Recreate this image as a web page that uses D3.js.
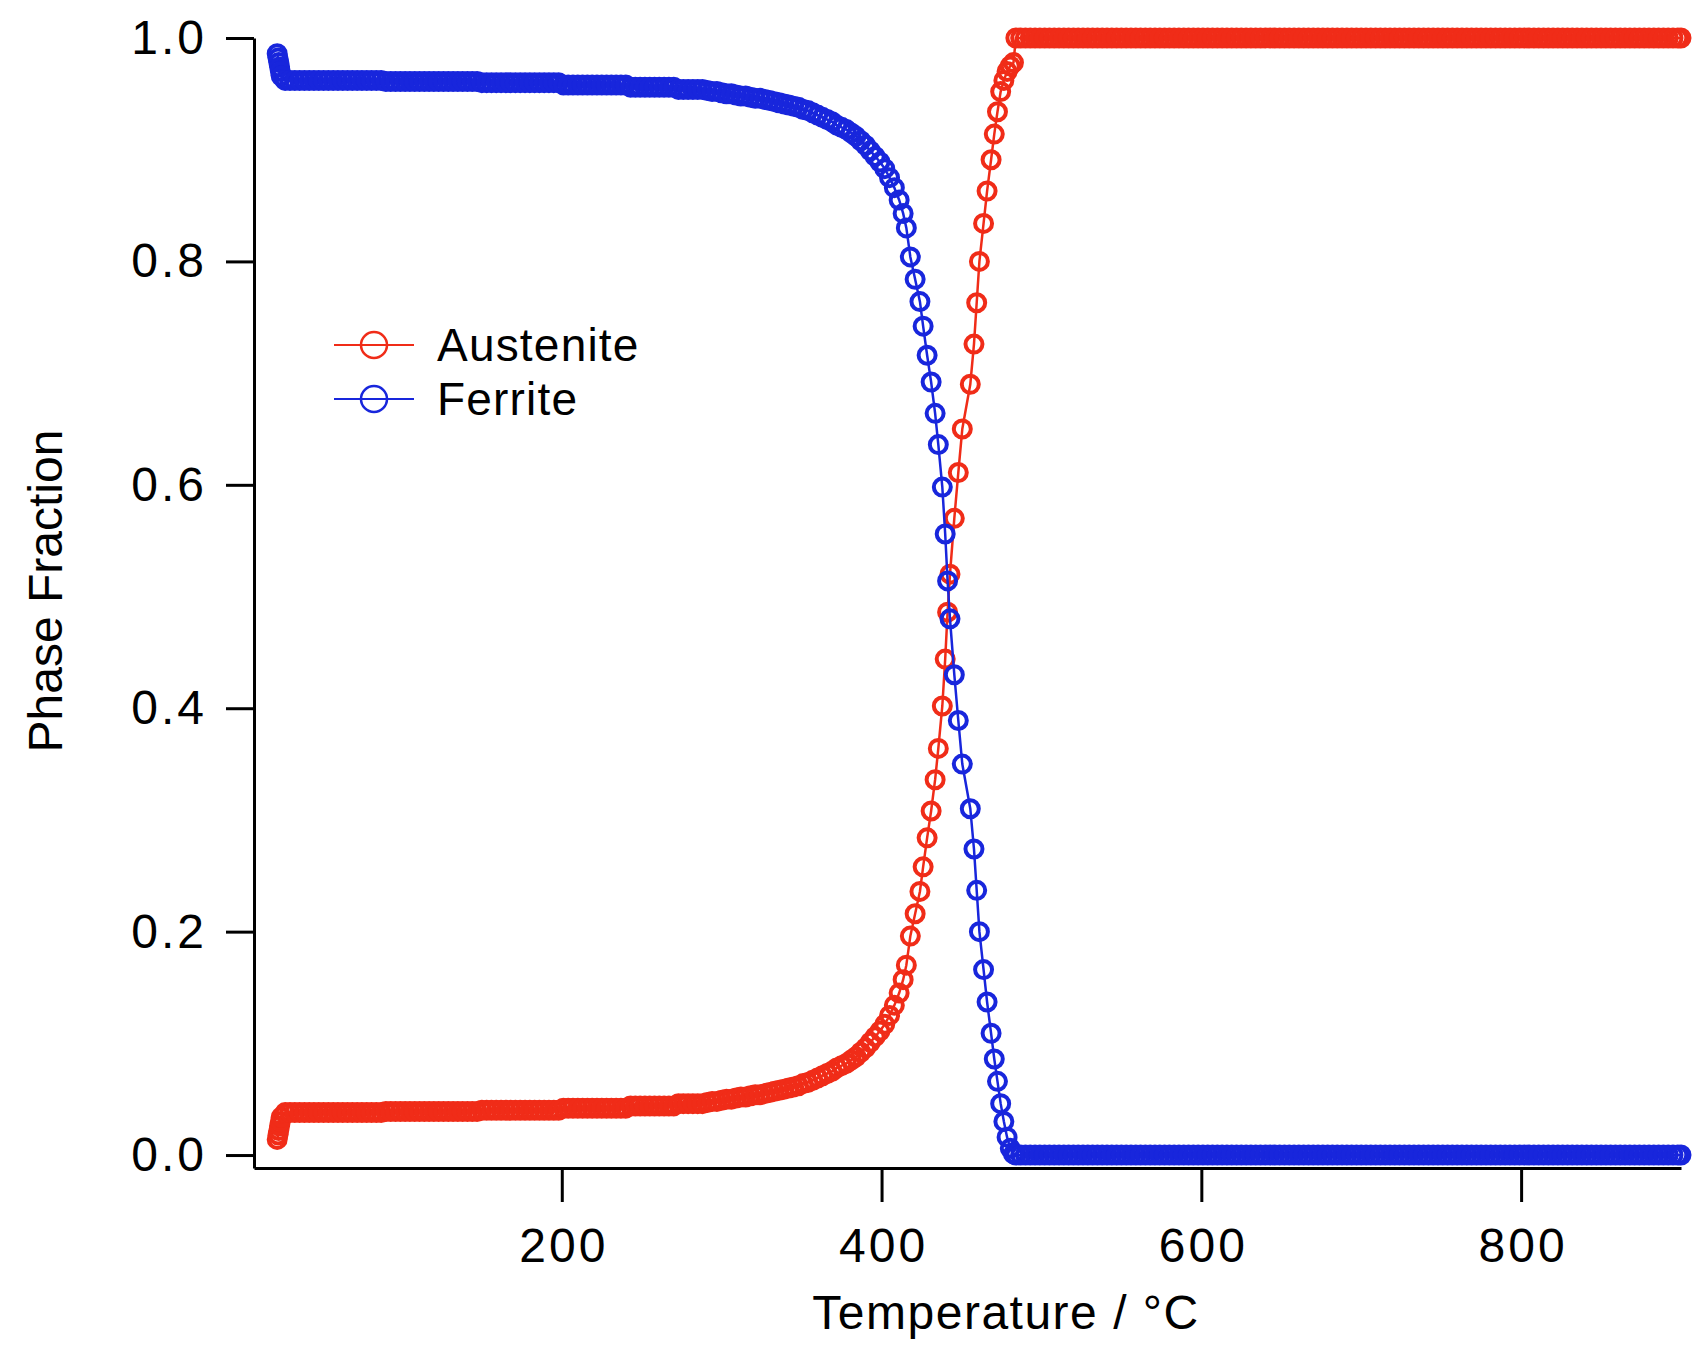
<!DOCTYPE html>
<html>
<head>
<meta charset="utf-8">
<script src="https://cdn.jsdelivr.net/npm/d3@7"></script>
<style>
  body { margin: 0; background: #fff; }
  svg text { font-family: "Liberation Sans", Arial, sans-serif; fill: #000; }
  .axis path, .axis line { stroke: #000; stroke-width: 3; }
</style>
</head>
<body>
<div id="chart"></div>
<script>

// temperature (°C) and phase fractions
// low temperature side: dense points
var tempLow = [
  22, 22.5, 23, 23.5, 24, 24.5,
  27, 30, 33, 36, 39, 42, 45, 48, 51, 54, 57, 60, 63, 66, 69, 72, 75, 78, 81, 84, 87,
  90, 93, 96, 99, 102, 105, 108, 111, 114, 117, 120, 123, 126, 129, 132, 135, 138, 141, 144, 147,
  150, 153, 156, 159, 162, 165, 168, 171, 174, 177, 180, 183, 186, 189, 192, 195, 198,
  201, 204, 207, 210, 213, 216, 219, 222, 225, 228, 231, 234, 237, 240,
  243, 246, 249, 252, 255, 258, 261, 264, 267, 270,
  273, 276, 279, 282, 285, 288,
  291, 294, 297, 300, 303, 306, 309, 312, 315, 318, 321, 324, 327, 330, 333, 336, 339, 342, 345, 348,
  351, 354, 357, 360, 363, 366, 369, 372, 375, 378, 381, 384, 387, 390, 393, 396, 399, 402, 405, 408, 411
];
var ferriteLow = [
  .986, .982, .978, .974, .970, .966,
  .962, .962, .962, .962, .962, .962, .962, .962, .962, .962, .962, .962, .962, .962, .962, .962, .962, .962, .962, .962, .962,
  .961, .961, .961, .961, .961, .961, .961, .961, .961, .961, .961, .961, .961, .961, .961, .961, .961, .961, .961, .961,
  .960, .960, .960, .960, .960, .960, .960, .960, .960, .960, .960, .960, .960, .960, .960, .960, .960,
  .958, .958, .958, .958, .958, .958, .958, .958, .958, .958, .958, .958, .958, .958,
  .956, .956, .956, .956, .956, .956, .956, .956, .956, .956,
  .954, .954, .954, .954, .954, .954,
  .953, .952, .952, .951, .950, .950, .949, .948, .948, .947, .946, .946, .945, .944, .943, .942, .941, .940, .939, .938,
  .936, .935, .933, .931, .929, .927, .925, .922, .920, .918, .915, .912, .908, .904, .899, .894, .889, .883, .875, .866, .855
];
var austeniteLow = [
  .014, .018, .022, .026, .030, .034,
  .038, .038, .038, .038, .038, .038, .038, .038, .038, .038, .038, .038, .038, .038, .038, .038, .038, .038, .038, .038, .038,
  .039, .039, .039, .039, .039, .039, .039, .039, .039, .039, .039, .039, .039, .039, .039, .039, .039, .039, .039, .039,
  .040, .040, .040, .040, .040, .040, .040, .040, .040, .040, .040, .040, .040, .040, .040, .040, .040,
  .042, .042, .042, .042, .042, .042, .042, .042, .042, .042, .042, .042, .042, .042,
  .044, .044, .044, .044, .044, .044, .044, .044, .044, .044,
  .046, .046, .046, .046, .046, .046,
  .047, .048, .048, .049, .050, .050, .051, .052, .052, .053, .054, .054, .055, .056, .057, .058, .059, .060, .061, .062,
  .064, .065, .067, .069, .071, .073, .075, .078, .080, .082, .085, .088, .092, .096, .101, .106, .111, .117, .125, .134, .145
];

// the transformation range
var tempTrans = [
  413.5, 415.5, 418, 421, 424, 426, 428.5, 431, 433.5, 435.5, 438, 439.8, 441.3, 442.8, 445.5, 448,
  450.5, 455.5, 457.8, 459.5, 461.2, 463.8, 466, 468.5, 470.5, 472.5, 474.5, 476.5, 478.5, 480.5, 482.5
];
var ferriteTrans = [
  .843, .830, .804, .784, .764, .742, .716, .692, .664, .636, .598, .556, .514, .480, .430, .389,
  .350, .310, .274, .237, .200, .166, .137, .109, .086, .066, .046, .030, .016, .006, .001
];
var austeniteTrans = [
  .157, .170, .196, .216, .236, .258, .284, .308, .336, .364, .402, .444, .486, .520, .570, .611,
  .650, .690, .726, .763, .800, .834, .863, .891, .914, .934, .952, .962, .970, .975, .978
];

// fully austenitic above ~483 °C
var tempHigh = [
  484, 487, 490, 493, 496, 499, 502, 505, 508, 511, 514, 517, 520, 523, 526, 529, 532, 535, 538, 541,
  544, 547, 550, 553, 556, 559, 562, 565, 568, 571, 574, 577, 580, 583, 586, 589, 592, 595, 598, 601,
  604, 607, 610, 613, 616, 619, 622, 625, 628, 631, 634, 637, 640, 643, 646, 649, 652, 655, 658, 661,
  664, 667, 670, 673, 676, 679, 682, 685, 688, 691, 694, 697, 700, 703, 706, 709, 712, 715, 718, 721,
  724, 727, 730, 733, 736, 739, 742, 745, 748, 751, 754, 757, 760, 763, 766, 769, 772, 775, 778, 781,
  784, 787, 790, 793, 796, 799, 802, 805, 808, 811, 814, 817, 820, 823, 826, 829, 832, 835, 838, 841,
  844, 847, 850, 853, 856, 859, 862, 865, 868, 871, 874, 877, 880, 883, 886, 889, 892, 895, 898, 900
];
var ferriteHigh = [
  0, 0, 0, 0, 0, 0, 0, 0, 0, 0, 0, 0, 0, 0, 0, 0, 0, 0, 0, 0,
  0, 0, 0, 0, 0, 0, 0, 0, 0, 0, 0, 0, 0, 0, 0, 0, 0, 0, 0, 0,
  0, 0, 0, 0, 0, 0, 0, 0, 0, 0, 0, 0, 0, 0, 0, 0, 0, 0, 0, 0,
  0, 0, 0, 0, 0, 0, 0, 0, 0, 0, 0, 0, 0, 0, 0, 0, 0, 0, 0, 0,
  0, 0, 0, 0, 0, 0, 0, 0, 0, 0, 0, 0, 0, 0, 0, 0, 0, 0, 0, 0,
  0, 0, 0, 0, 0, 0, 0, 0, 0, 0, 0, 0, 0, 0, 0, 0, 0, 0, 0, 0,
  0, 0, 0, 0, 0, 0, 0, 0, 0, 0, 0, 0, 0, 0, 0, 0, 0, 0, 0, 0
];
var austeniteHigh = [
  1, 1, 1, 1, 1, 1, 1, 1, 1, 1, 1, 1, 1, 1, 1, 1, 1, 1, 1, 1,
  1, 1, 1, 1, 1, 1, 1, 1, 1, 1, 1, 1, 1, 1, 1, 1, 1, 1, 1, 1,
  1, 1, 1, 1, 1, 1, 1, 1, 1, 1, 1, 1, 1, 1, 1, 1, 1, 1, 1, 1,
  1, 1, 1, 1, 1, 1, 1, 1, 1, 1, 1, 1, 1, 1, 1, 1, 1, 1, 1, 1,
  1, 1, 1, 1, 1, 1, 1, 1, 1, 1, 1, 1, 1, 1, 1, 1, 1, 1, 1, 1,
  1, 1, 1, 1, 1, 1, 1, 1, 1, 1, 1, 1, 1, 1, 1, 1, 1, 1, 1, 1,
  1, 1, 1, 1, 1, 1, 1, 1, 1, 1, 1, 1, 1, 1, 1, 1, 1, 1, 1, 1
];

var xTicks = [200, 400, 600, 800];
var yTicks = [0, 0.2, 0.4, 0.6, 0.8, 1.0];
var seriesNames = ["Austenite", "Ferrite"];
var seriesColors = ["#f02c18", "#1826dc"];

var temps = tempLow.concat(tempTrans, tempHigh);
var series = [
  d3.zip(temps, austeniteLow.concat(austeniteTrans, austeniteHigh)),
  d3.zip(temps, ferriteLow.concat(ferriteTrans, ferriteHigh))
];

var width = 1701, height = 1348;

var x = d3.scaleLinear().domain([7.5, 900]).range([254, 1681]);
var y = d3.scaleLinear().domain([-0.0116, 1]).range([1168, 38]);

var svg = d3.select("#chart")
  .append("svg")
  .attr("width", width)
  .attr("height", height);

// axes
var xAxis = d3.axisBottom(x).tickValues(xTicks).tickSizeInner(34).tickSizeOuter(0).tickPadding(26);
var yAxis = d3.axisLeft(y).tickValues(yTicks).tickFormat(d3.format(".1f"))
  .tickSizeInner(28).tickSizeOuter(0).tickPadding(19);

svg.append("g")
  .attr("class", "x axis")
  .attr("transform", "translate(0,1168)")
  .call(xAxis)
  .selectAll("text")
  .attr("font-size", 48)
  .attr("dx", 1.5)
  .style("letter-spacing", "3px")
  .attr("font-family", "Liberation Sans, Arial, sans-serif");

svg.append("g")
  .attr("class", "y axis")
  .attr("transform", "translate(254,0)")
  .call(yAxis)
  .selectAll("text")
  .attr("font-size", 48)
  .style("letter-spacing", "3px")
  .attr("font-family", "Liberation Sans, Arial, sans-serif");

// curves: line plus open circle markers
var line = d3.line()
  .x(function(d) { return x(d[0]); })
  .y(function(d) { return y(d[1]); });

series.forEach(function(pts, i) {
  var g = svg.append("g").attr("class", "series s" + i);
  g.append("path")
    .datum(pts)
    .attr("d", line)
    .attr("fill", "none")
    .attr("stroke", seriesColors[i])
    .attr("stroke-width", 2.5);
  g.selectAll("circle")
    .data(pts)
    .enter()
    .append("circle")
    .attr("cx", function(d) { return x(d[0]); })
    .attr("cy", function(d) { return y(d[1]); })
    .attr("r", 8.5)
    .attr("fill", "none")
    .attr("stroke", seriesColors[i])
    .attr("stroke-width", 4);
});

// legend
var legend = svg.append("g").attr("class", "legend");
seriesNames.forEach(function(name, i) {
  var ly = 345 + i * 54;
  legend.append("line")
    .attr("x1", 334).attr("x2", 414)
    .attr("y1", ly).attr("y2", ly)
    .attr("stroke", seriesColors[i])
    .attr("stroke-width", 2);
  legend.append("circle")
    .attr("cx", 374).attr("cy", ly)
    .attr("r", 13)
    .attr("fill", "none")
    .attr("stroke", seriesColors[i])
    .attr("stroke-width", 2.5);
  legend.append("text")
    .attr("x", 437)
    .attr("y", ly + 16)
    .attr("font-size", 46)
    .style("letter-spacing", "1.2px")
    .text(name);
});

// axis titles
svg.append("text")
  .attr("x", 1006)
  .attr("y", 1329)
  .attr("text-anchor", "middle")
  .attr("font-size", 48)
  .style("letter-spacing", "1.5px")
  .text("Temperature / °C");

svg.append("text")
  .attr("transform", "translate(62,591) rotate(-90)")
  .attr("text-anchor", "middle")
  .attr("font-size", 48)
  .text("Phase Fraction");

</script>
</body>
</html>
